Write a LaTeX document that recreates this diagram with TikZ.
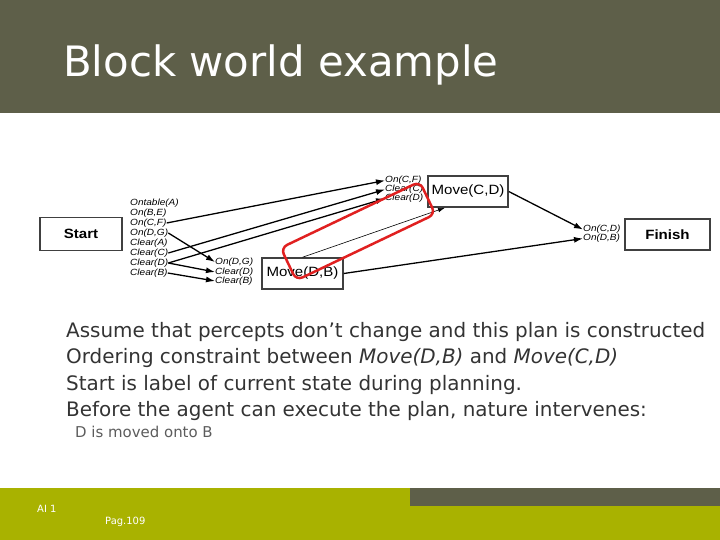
\documentclass[tikz,border=0pt]{standalone}
\usepackage{fontspec}
\setmainfont{DejaVu Sans}
\newfontfamily\hel[FakeStretch=1.12]{Liberation Sans}
\usepackage{tikz}
\usetikzlibrary{positioning}
\usetikzlibrary{arrows,arrows.meta}
\definecolor{headbg}{HTML}{5E5F49}
\definecolor{footbg}{HTML}{A9B200}
\definecolor{bodytxt}{HTML}{333333}
\definecolor{ringred}{HTML}{E02020}

\begin{document}
\begin{tikzpicture}[x=1bp,y=-1bp]
\tikzstyle{act}=[rectangle, draw=black!75, line width=1.5pt, inner sep=0pt, font=\hel\fontsize{13.5}{13.5}\selectfont]
\tikzstyle{lit}=[inner sep=0pt, anchor=west, font=\hel\itshape\fontsize{9}{9}\selectfont]
\tikzstyle{connect}=[-{Latex[length=9bp,width=6bp]}, line width=1.3pt]
\tikzstyle{order}=[-{Latex[length=7bp,width=4.5bp]}, semithick]
\tikzstyle{txt}=[anchor=base west, inner sep=0pt, text=bodytxt, font=\fontsize{20}{20}\selectfont]
\useasboundingbox (0,0) rectangle (720,540);
  % slide frame
  \fill[headbg] (0,0) rectangle (720,113);
  \node[anchor=base west, inner sep=0pt, text=white, font=\fontsize{42}{42}\selectfont] (title) at (63,77) {Block world example};
  \fill[footbg] (0,488) rectangle (720,540);
  \fill[headbg] (410,488) rectangle (720,506);
  \node[anchor=base west, inner sep=0pt, text=white, font=\fontsize{10}{10}\selectfont] (ai) at (37,512) {AI 1};
  \node[anchor=base west, inner sep=0pt, text=white, font=\fontsize{10}{10}\selectfont] (pag) at (105,524) {Pag.109};

  % plan
  \node[act, minimum width=82bp, minimum height=33bp, font=\hel\bfseries\fontsize{13.5}{13.5}\selectfont] (start) at (81,234) {Start};
  \node[act, minimum width=85bp, minimum height=31bp, font=\hel\bfseries\fontsize{13.5}{13.5}\selectfont] (finish) at (667.5,234.5) {Finish};
  \node[act, minimum width=80bp, minimum height=31bp] (mcd) at (468,191.5) {Move(C,D)};
  \node[act, minimum width=81bp, minimum height=31bp] (mdb) at (302.5,273.5) {Move(D,B)};

  \node[lit] (s1) at (130,203) {Ontable(A)};
  \node[lit] (s2) at (130,213) {On(B,E)};
  \node[lit] (s3) at (130,223) {On(C,F)};
  \node[lit] (s4) at (130,233) {On(D,G)};
  \node[lit] (s5) at (130,243) {Clear(A)};
  \node[lit] (s6) at (130,253) {Clear(C)};
  \node[lit] (s7) at (130,263) {Clear(D)};
  \node[lit] (s8) at (130,273) {Clear(B)};

  \node[lit] (b1) at (215,262) {On(D,G)};
  \node[lit] (b2) at (215,272) {Clear(D)};
  \node[lit] (b3) at (215,281) {Clear(B)};

  \node[lit] (c1) at (385,180.5) {On(C,F)};
  \node[lit] (c2) at (385,189.5) {Clear(C)};
  \node[lit] (c3) at (385,198.5) {Clear(D)};

  \node[lit] (f1) at (583,229.5) {On(C,D)};
  \node[lit] (f2) at (583,238.5) {On(D,B)};

  \draw[connect] (s3.east) -- (c1.west);
  \draw[connect] (s6.east) -- (c2.west);
  \draw[connect] (s7.east) -- (c3.west);
  \draw[connect] (s4.east) -- (b1.west);
  \draw[connect] (s7.east) -- (b2.west);
  \draw[connect] (s8.east) -- (b3.west);
  \draw[connect] (mcd.east) -- (f1.west);
  \draw[connect] (mdb.east) -- (f2.west);
  \draw[order] (mdb.north) -- (mcd.south west -| 445,0);

  % highlight
  \draw[ringred, line width=2.5pt, rounded corners=7bp, rotate around={25.5:(358,231)}] (281,213) rectangle (435,249);

  % notes
  \node[txt] (n1) at (66,337) {Assume that percepts don’t change and this plan is constructed};
  \node[txt] (n2) at (66,363.5) {Ordering constraint between \textit{Move(D,B)} and \textit{Move(C,D)}};
  \node[txt] (n3) at (66,390) {Start is label of current state during planning.};
  \node[txt] (n4) at (66,416.5) {Before the agent can execute the plan, nature intervenes:};
  \node[anchor=base west, inner sep=0pt, text=bodytxt!80, font=\fontsize{15}{15}\selectfont] (n5) at (75,437) {D is moved onto B};
\end{tikzpicture}
\end{document}
